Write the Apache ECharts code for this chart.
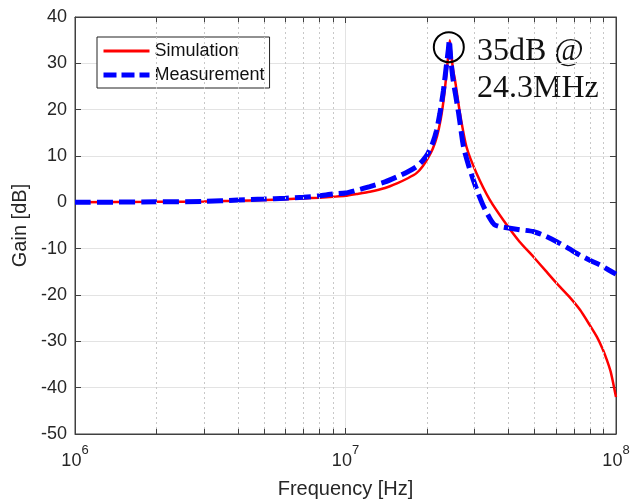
<!DOCTYPE html>
<html>
<head>
<meta charset="utf-8">
<script src="https://cdn.jsdelivr.net/npm/echarts@6/dist/echarts.min.js"></script>
<style>
  html, body { margin: 0; padding: 0; background: #fff; }
  #main { width: 634px; height: 504px; }
</style>
</head>
<body>
<div id="main"></div>
<script>
// frequencies in MHz, gain in dB
var simFreq = [1, 2, 3, 4, 5, 6, 7, 8, 9, 10, 11, 12.3, 14, 15.5, 17, 18.3, 19.3, 20.2, 21, 21.8, 22.5,
  23.1, 23.6, 24.0, 24.3, 24.6, 25.0, 25.4, 26.5, 28.0, 30.5, 34.2, 39.5, 44, 49.4, 55, 60.4, 67,
  73.6, 80, 84.9, 89, 92.5, 95.5, 97.7, 100];
var simGain = [0, 0.1, 0.2, 0.35, 0.5, 0.65, 0.85, 1.0, 1.2, 1.4, 1.8, 2.3, 3.1, 4.1, 5.2, 6.3, 7.8, 9.6, 11.5, 14.3, 18,
  22.5, 27.5, 32, 35, 32, 28.5, 26.4, 19.2, 12.0, 6.3, 0.5, -4.9, -8.5, -11.7, -14.8, -17.5, -20.3,
  -23.2, -26.5, -29, -31.5, -34, -36.5, -39.1, -42];

var measFreq = [1, 2, 3, 4, 5, 6, 7, 8, 9, 10, 11, 12.3, 14, 15.5, 17, 18.3, 19.3, 20.2, 21, 21.7, 22.3,
  23.0, 23.6, 24.0, 24.2, 24.5, 25.0, 26.2, 27.3, 28.5, 29.7, 31, 32.4, 34.2, 35.5, 37, 39.5, 44,
  49.4, 55, 60.4, 67, 73.6, 80, 87.3, 94, 100];
var measGain = [0, 0.1, 0.2, 0.5, 0.7, 0.9, 1.1, 1.4, 1.8, 2.0, 2.6, 3.4, 4.4, 5.5, 6.6, 7.7, 9.0, 10.6, 12.8, 15.5, 19,
  24, 29.5, 33, 35, 31, 26.4, 19.2, 12.0, 8, 4.8, 1.8, -0.9, -3.5, -4.8, -5.2, -5.5, -5.9,
  -6.3, -7.3, -8.5, -10, -11.4, -12.5, -13.5, -14.6, -15.5];

var yTicks = [-50, -40, -30, -20, -10, 0, 10, 20, 30, 40];
var peakFreq = 24.3, peakGain = 35;

function pairs(f, g) {
  return f.map(function (v, i) { return [v * 1e6, g[i]]; });
}

// minor log grid positions 2..9 x decade
var minor = [];
[1e6, 1e7].forEach(function (d) {
  for (var k = 2; k <= 9; k++) minor.push(k * d);
});
var yMin = yTicks[0], yMax = yTicks[yTicks.length - 1];
var gridLines = minor.map(function (v) { return { xAxis: v }; });
var tickLen = 1.1;
var minorTickSegs = [];
minor.forEach(function (v) {
  minorTickSegs.push([{ coord: [v, yMin] }, { coord: [v, yMin + tickLen] }]);
  minorTickSegs.push([{ coord: [v, yMax] }, { coord: [v, yMax - tickLen] }]);
});

var axisColor = '#404040';
var textColor = '#262626';

var chart = echarts.init(document.getElementById('main'));
chart.setOption({
  animation: false,
  backgroundColor: '#fff',
  textStyle: { fontFamily: 'Liberation Sans, Arial, sans-serif' },
  grid: { left: 75, right: 18, top: 17, bottom: 70, show: true, borderColor: axisColor, borderWidth: 1 },
  legend: {
    orient: 'vertical',
    left: 97,
    top: 37,
    padding: [5, 5, 4, 4],
    itemGap: 6,
    itemWidth: 46,
    itemHeight: 14,
    backgroundColor: '#fff',
    borderColor: '#222',
    borderWidth: 1,
    itemStyle: { opacity: 0 },
    textStyle: { fontSize: 18, color: '#111', lineHeight: 18 },
    data: [
      { name: 'Simulation', lineStyle: { width: 3 } },
      { name: 'Measurement', lineStyle: { width: 5, type: [13, 5] } }
    ]
  },
  xAxis: [{
    type: 'log',
    logBase: 10,
    min: 1e6,
    max: 1e8,
    name: 'Frequency [Hz]',
    nameLocation: 'middle',
    nameGap: 45,
    nameTextStyle: { fontSize: 20, color: textColor },
    axisLine: { show: true, onZero: false, lineStyle: { color: axisColor } },
    axisTick: { inside: true, length: 6, lineStyle: { color: axisColor } },
    splitLine: { show: true, lineStyle: { color: '#e3e3e3', width: 1 } },
    axisLabel: {
      margin: 10,
      color: textColor,
      formatter: function (v) {
        return '{b|10}{s|' + Math.round(Math.log10(v)) + '}';
      },
      rich: {
        b: { fontSize: 18, lineHeight: 26, verticalAlign: 'bottom', color: textColor },
        s: { fontSize: 13, lineHeight: 26, verticalAlign: 'top', color: textColor }
      }
    }
  }, {
    type: 'log',
    logBase: 10,
    min: 1e6,
    max: 1e8,
    position: 'top',
    axisLine: { show: true, onZero: false, lineStyle: { color: axisColor } },
    axisTick: { inside: true, length: 6, lineStyle: { color: axisColor } },
    axisLabel: { show: false },
    splitLine: { show: false }
  }],
  yAxis: [{
    type: 'value',
    min: yMin,
    max: yMax,
    interval: 10,
    name: 'Gain [dB]',
    nameLocation: 'middle',
    nameGap: 43,
    nameTextStyle: { fontSize: 20, color: textColor },
    axisLine: { show: true, onZero: false, lineStyle: { color: axisColor } },
    axisTick: { show: true, inside: true, length: 6, lineStyle: { color: axisColor } },
    axisLabel: { fontSize: 18, color: textColor, margin: 8 },
    splitLine: { show: true, lineStyle: { color: '#e3e3e3', width: 1 } }
  }, {
    type: 'value',
    min: yMin,
    max: yMax,
    interval: 10,
    position: 'right',
    axisLine: { show: true, onZero: false, lineStyle: { color: axisColor } },
    axisTick: { show: true, inside: true, length: 6, lineStyle: { color: axisColor } },
    axisLabel: { show: false },
    splitLine: { show: false }
  }],
  series: [{
    name: 'Simulation',
    type: 'line',
    data: pairs(simFreq, simGain),
    showSymbol: false,
    symbol: 'none',
    smooth: 0.2,
    color: '#ff0000',
    lineStyle: { color: '#ff0000', width: 2.5 },
    z: 3,
    markLine: {
      silent: true,
      symbol: 'none',
      animation: false,
      label: { show: false },
      lineStyle: { type: [2, 3], color: '#c8c8c8', width: 1 },
      data: gridLines
    }
  }, {
    name: 'Measurement',
    type: 'line',
    data: pairs(measFreq, measGain),
    showSymbol: false,
    symbol: 'none',
    smooth: 0.2,
    color: '#0000ff',
    lineStyle: { color: '#0000ff', width: 5, type: [16, 6] },
    z: 4,
    markLine: {
      silent: true,
      symbol: 'none',
      animation: false,
      label: { show: false },
      lineStyle: { type: 'solid', color: axisColor, width: 1 },
      data: minorTickSegs
    },
    markPoint: {
      silent: true,
      animation: false,
      data: [{
        coord: [peakFreq * 1e6, peakGain],
        symbol: 'circle',
        symbolSize: 30,
        symbolOffset: [-1, 7],
        itemStyle: { color: 'rgba(0,0,0,0)', borderColor: '#000', borderWidth: 2 },
        label: { show: false }
      }]
    }
  }],
  graphic: [{
    type: 'text',
    left: 477,
    top: 36,
    style: { text: '35dB @', font: '32px "Liberation Serif", "Times New Roman", serif', fill: '#111' }
  }, {
    type: 'text',
    left: 477,
    top: 73,
    style: { text: '24.3MHz', font: '32px "Liberation Serif", "Times New Roman", serif', fill: '#111' }
  }]
});
</script>
</body>
</html>
